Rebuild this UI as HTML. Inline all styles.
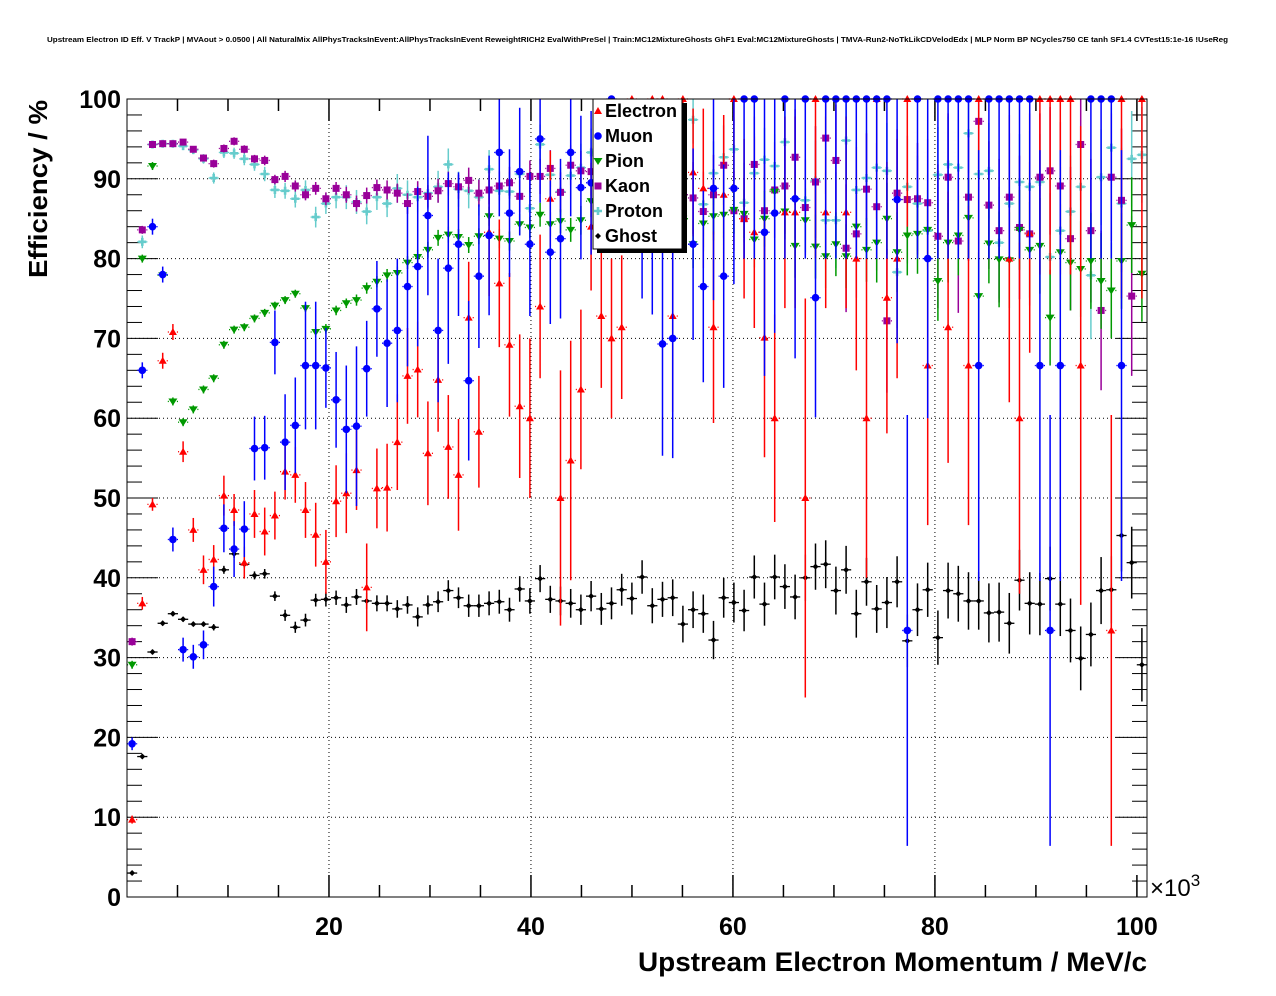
<!DOCTYPE html>
<html><head><meta charset="utf-8"><style>
html,body{margin:0;padding:0;background:#fff;}
svg{display:block;font-family:"Liberation Sans",sans-serif;}
</style></head><body>
<svg id="chart" width="1276" height="996" viewBox="0 0 1276 996" xmlns="http://www.w3.org/2000/svg">
<rect x="0" y="0" width="1276" height="996" fill="#fff"/>
<text x="47" y="42" font-size="7" font-weight="bold" textLength="1181" lengthAdjust="spacingAndGlyphs">Upstream Electron ID Eff. V TrackP | MVAout &gt; 0.0500 | All NaturalMix AllPhysTracksInEvent:AllPhysTracksInEvent ReweightRICH2 EvalWithPreSel | Train:MC12MixtureGhosts GhF1 Eval:MC12MixtureGhosts | TMVA-Run2-NoTkLikCDVelodEdx | MLP Norm BP NCycles750 CE tanh SF1.4 CVTest15:1e-16 !UseReg</text>
<g id="grid"></g>
<g id="axes"></g>
<g id="series"></g>
<rect x="127" y="99" width="1020" height="798" fill="none" stroke="#000" stroke-width="1"/>
<text transform="translate(47,278) rotate(-90)" font-size="26" font-weight="bold" textLength="178" lengthAdjust="spacingAndGlyphs">Efficiency / %</text>
<text x="638" y="971" font-size="27" font-weight="bold" textLength="509" lengthAdjust="spacingAndGlyphs">Upstream Electron Momentum / MeV/c</text>
<text x="1150" y="896" font-size="24">×10<tspan font-size="17" dy="-10">3</tspan></text>
<g id="legend">
<rect x="597" y="103" width="90" height="150" fill="#000"/>
<rect x="593" y="99" width="89" height="150" fill="#fff" stroke="#000" stroke-width="1"/>
</g>
</svg>
<script>
// ---- data ----
const binCenters = [];
for (let i = 0; i < 100; i++) binCenters.push(0.505 + 1.01 * i);
const xTicks = [20, 40, 60, 80, 100];
const yTicks = [0, 10, 20, 30, 40, 50, 60, 70, 80, 90, 100];
const seriesNames = ["Electron", "Muon", "Pion", "Kaon", "Proton", "Ghost"];
const n = null;
const electronVals = [9.7,36.8,49.2,67.2,70.8,55.8,46.0,41.0,42.3,50.3,48.5,41.9,48.0,45.8,47.8,53.3,52.9,48.5,45.4,42.0,49.6,50.6,53.5,38.8,51.2,
51.3,57.0,65.3,66.1,55.6,64.8,56.4,52.9,72.6,58.3,83.3,76.9,69.2,61.5,60.0,74.0,87.5,50.0,54.7,63.6,84.0,72.8,70.0,71.4,100,
96,100,100,72.8,100,90.8,88.8,71.4,88,100,85,83.3,70.1,60.0,85.8,85.8,50.0,100,85.8,n,85.8,80.0,60.0,100,75.1,
80.0,100,n,66.6,n,71.4,n,66.6,100,n,n,80.0,60.0,83.2,100,100,100,100,66.6,n,n,33.4,100,n,100];
const electronErr = [0.5,0.8,0.8,1,1,1.3,1.5,1.8,1.8,2.5,2,2,3,3,3,3.5,3.5,3.5,4,4,4.5,5,5,5.5,5,
5.5,6,6,6,6.5,6.5,6.5,7,7,7,8,8,9,9,10,9,6,16,15,10,8,9,10,9,10,
12,12,10,12,10,8,10,12,10,10,10,12,15,13,12,12,25,20,12,n,12,14,20,15,17,
15,16,n,20,n,17,n,20,20,n,n,18,22,15,22,22,22,22,30,n,n,27,25,n,25];
const muonVals = [19.2,66.0,84.0,78.0,44.8,31.0,30.1,31.6,38.9,46.2,43.6,46.1,56.2,56.3,69.5,57.0,59.1,66.6,66.6,66.3,62.3,58.6,59.0,66.2,73.7,
69.4,71.0,76.5,79.0,85.4,71.0,78.8,81.8,64.7,77.8,82.9,93.3,85.7,90.9,81.8,95.0,80.8,82.5,93.3,88.9,89.5,n,100,n,n,
85,83,69.3,70.0,n,81.8,76.5,88.8,77.8,88.8,100,100,83.3,85.7,100,87.5,100,75.1,100,100,100,100,100,100,100,
87.4,33.4,100,80.0,100,100,100,100,66.6,100,100,100,100,100,66.6,33.4,66.6,n,n,100,100,100,66.6,n,n];
const muonErr = [0.8,1,1,1,1.5,1.5,1.5,1.8,2.5,3,3.5,3.5,4,4,4,6,6,8,8,5,6,8,10,6,6,
8,9,10,10,10,9,12,9,10,9,10,8,8,8,9,8,9,10,8,9,9,n,10,n,n,
10,10,14,15,n,12,12,14,14,12,20,20,18,15,20,20,20,15,20,20,20,20,20,20,20,
18,27,20,20,20,20,20,20,27,20,20,20,20,20,27,27,27,n,n,20,20,20,27,n,n];
const pionVals = [29.1,80.0,91.6,77.9,62.1,59.5,61.1,63.6,65.0,69.2,71.1,71.4,72.5,73.2,74.1,74.8,75.6,73.8,70.8,71.2,73.5,74.4,74.8,76.3,77.1,
77.9,78.2,79.5,80.2,81.1,82.6,83.0,82.7,81.7,82.8,85.3,82.5,82.2,84.3,83.9,85.5,84.3,84.7,83.6,84.8,87.2,86,85.5,86,86,
86,86,85,86,85,81.8,84.4,85.3,85.5,86.1,85.6,82.4,85.0,88.4,85.9,81.6,84.8,81.5,80.3,81.8,80.3,84.0,81.1,82.0,85.0,
80.8,82.9,83.1,83.6,77.2,82.0,82.9,85.1,75.3,81.9,79.9,79.8,83.6,81.1,81.6,72.6,80.8,79.5,78.7,79.7,77.2,76.0,79.7,84.2,78.1];
const pionErr = [0.5,0.5,0.5,0.5,0.5,0.5,0.5,0.5,0.5,0.5,0.5,0.5,0.5,0.5,0.5,0.5,0.5,0.5,0.6,0.6,0.6,0.6,0.7,0.7,0.7,
0.8,0.8,0.8,0.9,1,1,1,1,1,1,1.2,1.2,1.2,1.3,1.3,1.5,1.5,1.5,1.5,1.8,2,2,2,2,2,
2.5,2.5,2.5,2.5,2.5,3,3,3,3,3,3,3.5,3.5,3.5,3.5,4,4,4,4,4,4,4,4,5,4.5,
5,5,5,5,5,5,5,5,5.5,5,6,6,5,6,6,6,6,6,6,6,6,6,6,6,6];
const kaonVals = [32.0,83.6,94.3,94.4,94.4,94.6,93.7,92.6,91.9,93.8,94.7,93.7,92.5,92.3,89.9,90.3,89.1,88.0,88.8,87.5,88.8,88.0,86.9,87.9,88.9,
88.6,88.2,86.9,88.4,87.8,88.5,89.4,89.0,89.8,88.2,88.6,89.1,89.5,87.8,90.3,90.3,91.3,88.3,91.7,91.0,90.9,90.5,91,90,91,
90,90.5,89,87.5,88,87.6,85.9,88.0,91.7,86,85.0,91.8,86.0,88.6,89.1,92.7,86.4,89.6,95.1,92.3,81.3,83.1,88.7,86.5,72.2,
88.2,87.4,87.5,87.0,82.8,90.2,82.2,87.7,97.2,86.7,83.5,87.7,83.9,83.1,90.2,91.0,89.1,82.5,94.3,83.5,73.5,90.2,87.3,75.3,n];
const kaonErr = [0.5,0.5,0.3,0.3,0.3,0.3,0.4,0.4,0.5,0.5,0.5,0.5,0.5,0.6,0.6,0.7,0.7,0.7,0.8,0.8,0.8,1,1,1,1,
1.2,1.2,1.3,1.3,1.4,1.5,1.5,1.5,1.6,1.7,1.8,1.8,2,2,2,2.2,2.3,2.5,2.5,2.5,3,3,3,3,3,
4,4,4,4,4,4.5,5,5,5,5,5,6,6,6,6,6,6,7,7,7,8,8,7,8,9,
8,8,7,8,9,8,9,8,6,8,9,8,9,9,8,8,8,9,7,9,10,8,9,10,n];
const protonVals = [n,82.1,94.3,94.4,94.4,94.1,93.6,92.5,90.1,93.3,93.2,92.5,91.8,90.6,88.6,88.5,87.5,88.6,85.2,86.9,87.7,87.7,87.1,85.9,87.7,
86.9,88.8,88.0,87.7,88.2,89.0,91.8,88.7,88.5,87.7,91.2,88.5,88.4,90.6,86.3,94.3,90.5,88.4,90.4,91.4,93.3,90,91,88,92,
91,90,89,88,88,97.4,86.8,90.7,92.7,93.7,87.0,90.7,92.4,91.6,94.6,87.5,87.3,89.8,84.8,84.8,94.8,88.6,90.1,91.4,91.0,
78.3,89.0,86.9,83.5,90.5,91.8,91.4,95.7,90.6,91.0,82.0,86.9,89.6,89.0,89.6,80.2,83.5,85.9,89.0,77.9,90.2,93.9,86.9,92.5,93.0];
const protonErr = [n,0.8,0.4,0.4,0.4,0.5,0.5,0.6,0.7,0.7,0.7,0.8,0.8,0.9,1,1,1.1,1.2,1.3,1.3,1.4,1.5,1.5,1.6,1.6,
1.7,1.8,1.8,1.9,2,2,2,2.2,2.2,2.3,2.4,2.5,2.5,2.6,2.7,2.5,2.8,3,3,3,3,3,3,3,3,
3.5,3.5,3.5,3.5,3.5,3,4,4,4,4,5,5,4,4,4,5,5,5,6,6,5,6,6,6,6,
7,6,6,7,6,6,6,5,6,6,7,7,6,7,6,8,8,7,6,8,6,5,7,6,6];
const ghostVals = [3.0,17.6,30.7,34.3,35.5,34.8,34.2,34.2,33.8,41.0,43.0,41.7,40.3,40.5,37.7,35.3,33.8,34.7,37.2,37.3,37.5,36.6,37.6,37.1,36.8,
36.8,36.1,36.6,35.1,36.6,37.0,38.4,37.5,36.5,36.5,36.8,37.0,36.0,38.6,37.1,39.9,37.3,37.1,36.8,36.0,37.7,36.1,36.8,38.5,37.4,
40.1,36.5,37.3,37.5,34.2,36.0,35.5,32.2,37.5,36.9,35.9,40.1,36.7,40.1,38.9,37.6,40.0,41.4,41.7,38.4,41.0,35.5,39.5,36.1,36.9,
39.5,32.1,36.0,38.5,32.5,38.4,38.0,37.1,37.1,35.6,35.7,34.3,39.7,36.8,36.7,39.9,36.7,33.4,29.9,32.9,38.4,38.5,45.3,41.9,29.1];
const ghostErr = [0.2,0.3,0.3,0.3,0.3,0.3,0.3,0.3,0.4,0.5,0.5,0.5,0.5,0.6,0.6,0.7,0.7,0.8,0.8,0.9,0.9,1,1,1,1,
1,1.1,1.1,1.2,1.2,1.3,1.3,1.3,1.4,1.4,1.5,1.5,1.5,1.6,1.6,1.7,1.7,1.8,1.8,1.9,1.9,2,2,2,2,
2.1,2.2,2.2,2.3,2.3,2.3,2.4,2.4,2.5,2.5,2.6,2.7,2.7,2.8,2.8,2.8,2.9,2.9,3,3,3,3,3,3,3.2,
3.2,3.3,3.3,3.4,3.4,3.5,3.5,3.6,3.6,3.7,3.7,3.8,3.8,3.9,3.9,4,4,4,4,4,4.2,4.2,4.5,4.5,4.6];

// ---- scales ----
const X0 = 127, X1 = 1147, Y0 = 897, Y1 = 99;
const xMin = 0, xMax = 101, yMin = 0, yMax = 100;
function xs(v) { return X0 + (v - xMin) / (xMax - xMin) * (X1 - X0); }
function ys(v) { return Y0 - (v - yMin) / (yMax - yMin) * (Y0 - Y1); }
const NS = "http://www.w3.org/2000/svg";
function mk(tag, attrs, parent) {
  const e = document.createElementNS(NS, tag);
  for (const k in attrs) e.setAttribute(k, attrs[k]);
  parent.appendChild(e);
  return e;
}
const grid = document.getElementById('grid');
const axes = document.getElementById('axes');
const series = document.getElementById('series');

yTicks.forEach(t => {
  if (t === 0 || t === 100) return;
  const l = mk('line', {x1: X0, x2: X1, y1: ys(t), y2: ys(t), stroke: '#000', 'stroke-width': 1, 'stroke-dasharray': '1,3'}, grid);
  
  
});
xTicks.forEach(t => {
  if (t >= 100) return;
  const l = mk('line', {x1: xs(t), x2: xs(t), y1: Y0, y2: Y1, stroke: '#000', 'stroke-width': 1, 'stroke-dasharray': '1,3'}, grid);
  
  
});
for (let v = 0; v <= 100; v += 2) {
  const major = v % 10 === 0;
  const len = major ? 31 : 15;
  const a = mk('line', {x1: X0, x2: X0 + len, y1: ys(v), y2: ys(v), stroke: '#000', 'stroke-width': 1}, axes);
  
  
  const b = mk('line', {x1: X1, x2: X1 - len, y1: ys(v), y2: ys(v), stroke: '#000', 'stroke-width': 1}, axes);
  
  
}
yTicks.forEach(t => {
  const tx = mk('text', {x: 121, y: ys(t) + 9, 'font-size': 25, 'font-weight': 'bold', 'text-anchor': 'end'}, axes);
  tx.textContent = t;
  
  
});
for (let v = 5; v <= 100; v += 5) {
  const major = v % 20 === 0;
  const len = major ? 22 : 12;
  const a = mk('line', {x1: xs(v), x2: xs(v), y1: Y0, y2: Y0 - len, stroke: '#000', 'stroke-width': 1.5}, axes);
  
  
  const b = mk('line', {x1: xs(v), x2: xs(v), y1: Y1, y2: Y1 + len, stroke: '#000', 'stroke-width': 1.5}, axes);
  
  
}
xTicks.forEach(t => {
  const tx = mk('text', {x: xs(t), y: 935, 'font-size': 25, 'font-weight': 'bold', 'text-anchor': 'middle'}, axes);
  tx.textContent = t;
  
  
});

function marker(kind, cx, cy, color, parent) {
  let e;
  if (kind === 'tri') e = mk('polygon', {points: `${cx},${cy-4} ${cx-4},${cy+3} ${cx+4},${cy+3}`, fill: color}, parent);
  else if (kind === 'circ') e = mk('circle', {cx: cx, cy: cy, r: 3.8, fill: color}, parent);
  else if (kind === 'tridown') e = mk('polygon', {points: `${cx-4.5},${cy-3} ${cx+4.5},${cy-3} ${cx},${cy+4}`, fill: color}, parent);
  else if (kind === 'sq') e = mk('rect', {x: cx-3.5, y: cy-3.5, width: 7, height: 7, fill: color}, parent);
  else if (kind === 'plus') e = mk('path', {d: `M${cx-4},${cy-1.3}h8v2.6h-8z M${cx-1.3},${cy-4}h2.6v8h-2.6z`, fill: color}, parent);
  else e = mk('polygon', {points: `${cx},${cy-3} ${cx+3},${cy} ${cx},${cy+3} ${cx-3},${cy}`, fill: color}, parent);
  return e;
}
const defs = [
  {name: 'Electron', vals: electronVals, errs: electronErr, color: '#ff0000', kind: 'tri', key: 'electron'},
  {name: 'Muon', vals: muonVals, errs: muonErr, color: '#0000ff', kind: 'circ', key: 'muon'},
  {name: 'Pion', vals: pionVals, errs: pionErr, color: '#009900', kind: 'tridown', key: 'pion'},
  {name: 'Kaon', vals: kaonVals, errs: kaonErr, color: '#990099', kind: 'sq', key: 'kaon'},
  {name: 'Proton', vals: protonVals, errs: protonErr, color: '#66cccc', kind: 'plus', key: 'proton'},
  {name: 'Ghost', vals: ghostVals, errs: ghostErr, color: '#000000', kind: 'dot', key: 'ghost'}
];
const order = [5, 4, 3, 2, 0, 1];
order.forEach(si => {
  const d = defs[si];
  const g = mk('g', {}, series);
  
  
  d.vals.forEach((v, i) => {
    if (v === null) return;
    const cx = xs(binCenters[i]), cy = ys(v);
    const err = d.errs[i] || 0;
    const hw = (xs(1.01) - xs(0)) / 2;
    const gap = d.kind === 'dot' ? 2 : 4;
    const h1 = mk('line', {x1: cx - hw, x2: cx - gap, y1: cy, y2: cy, stroke: d.color, 'stroke-width': 1.3}, g);
    
    
    const h2 = mk('line', {x1: cx + gap, x2: cx + hw, y1: cy, y2: cy, stroke: d.color, 'stroke-width': 1.3}, g);
    
    
    if (err > 0) {
      const top = Math.min(100, v + err), bot = Math.max(0, v - err);
      const vb = mk('line', {x1: cx, x2: cx, y1: ys(top), y2: ys(bot), stroke: d.color, 'stroke-width': 1.5}, g);
      
      
    }
    const m = marker(d.kind, cx, cy, d.color, g);
    
    
  });
});

const leg = document.getElementById('legend');
defs.forEach((d, k) => {
  const y = 111 + 25 * k;
  const m = marker(d.kind, 598, y, d.color, leg);
  
  
  const t = mk('text', {x: 605, y: y + 6, 'font-size': 18, 'font-weight': 'bold'}, leg);
  t.textContent = d.name;
  
  
});
</script>
</body></html>
